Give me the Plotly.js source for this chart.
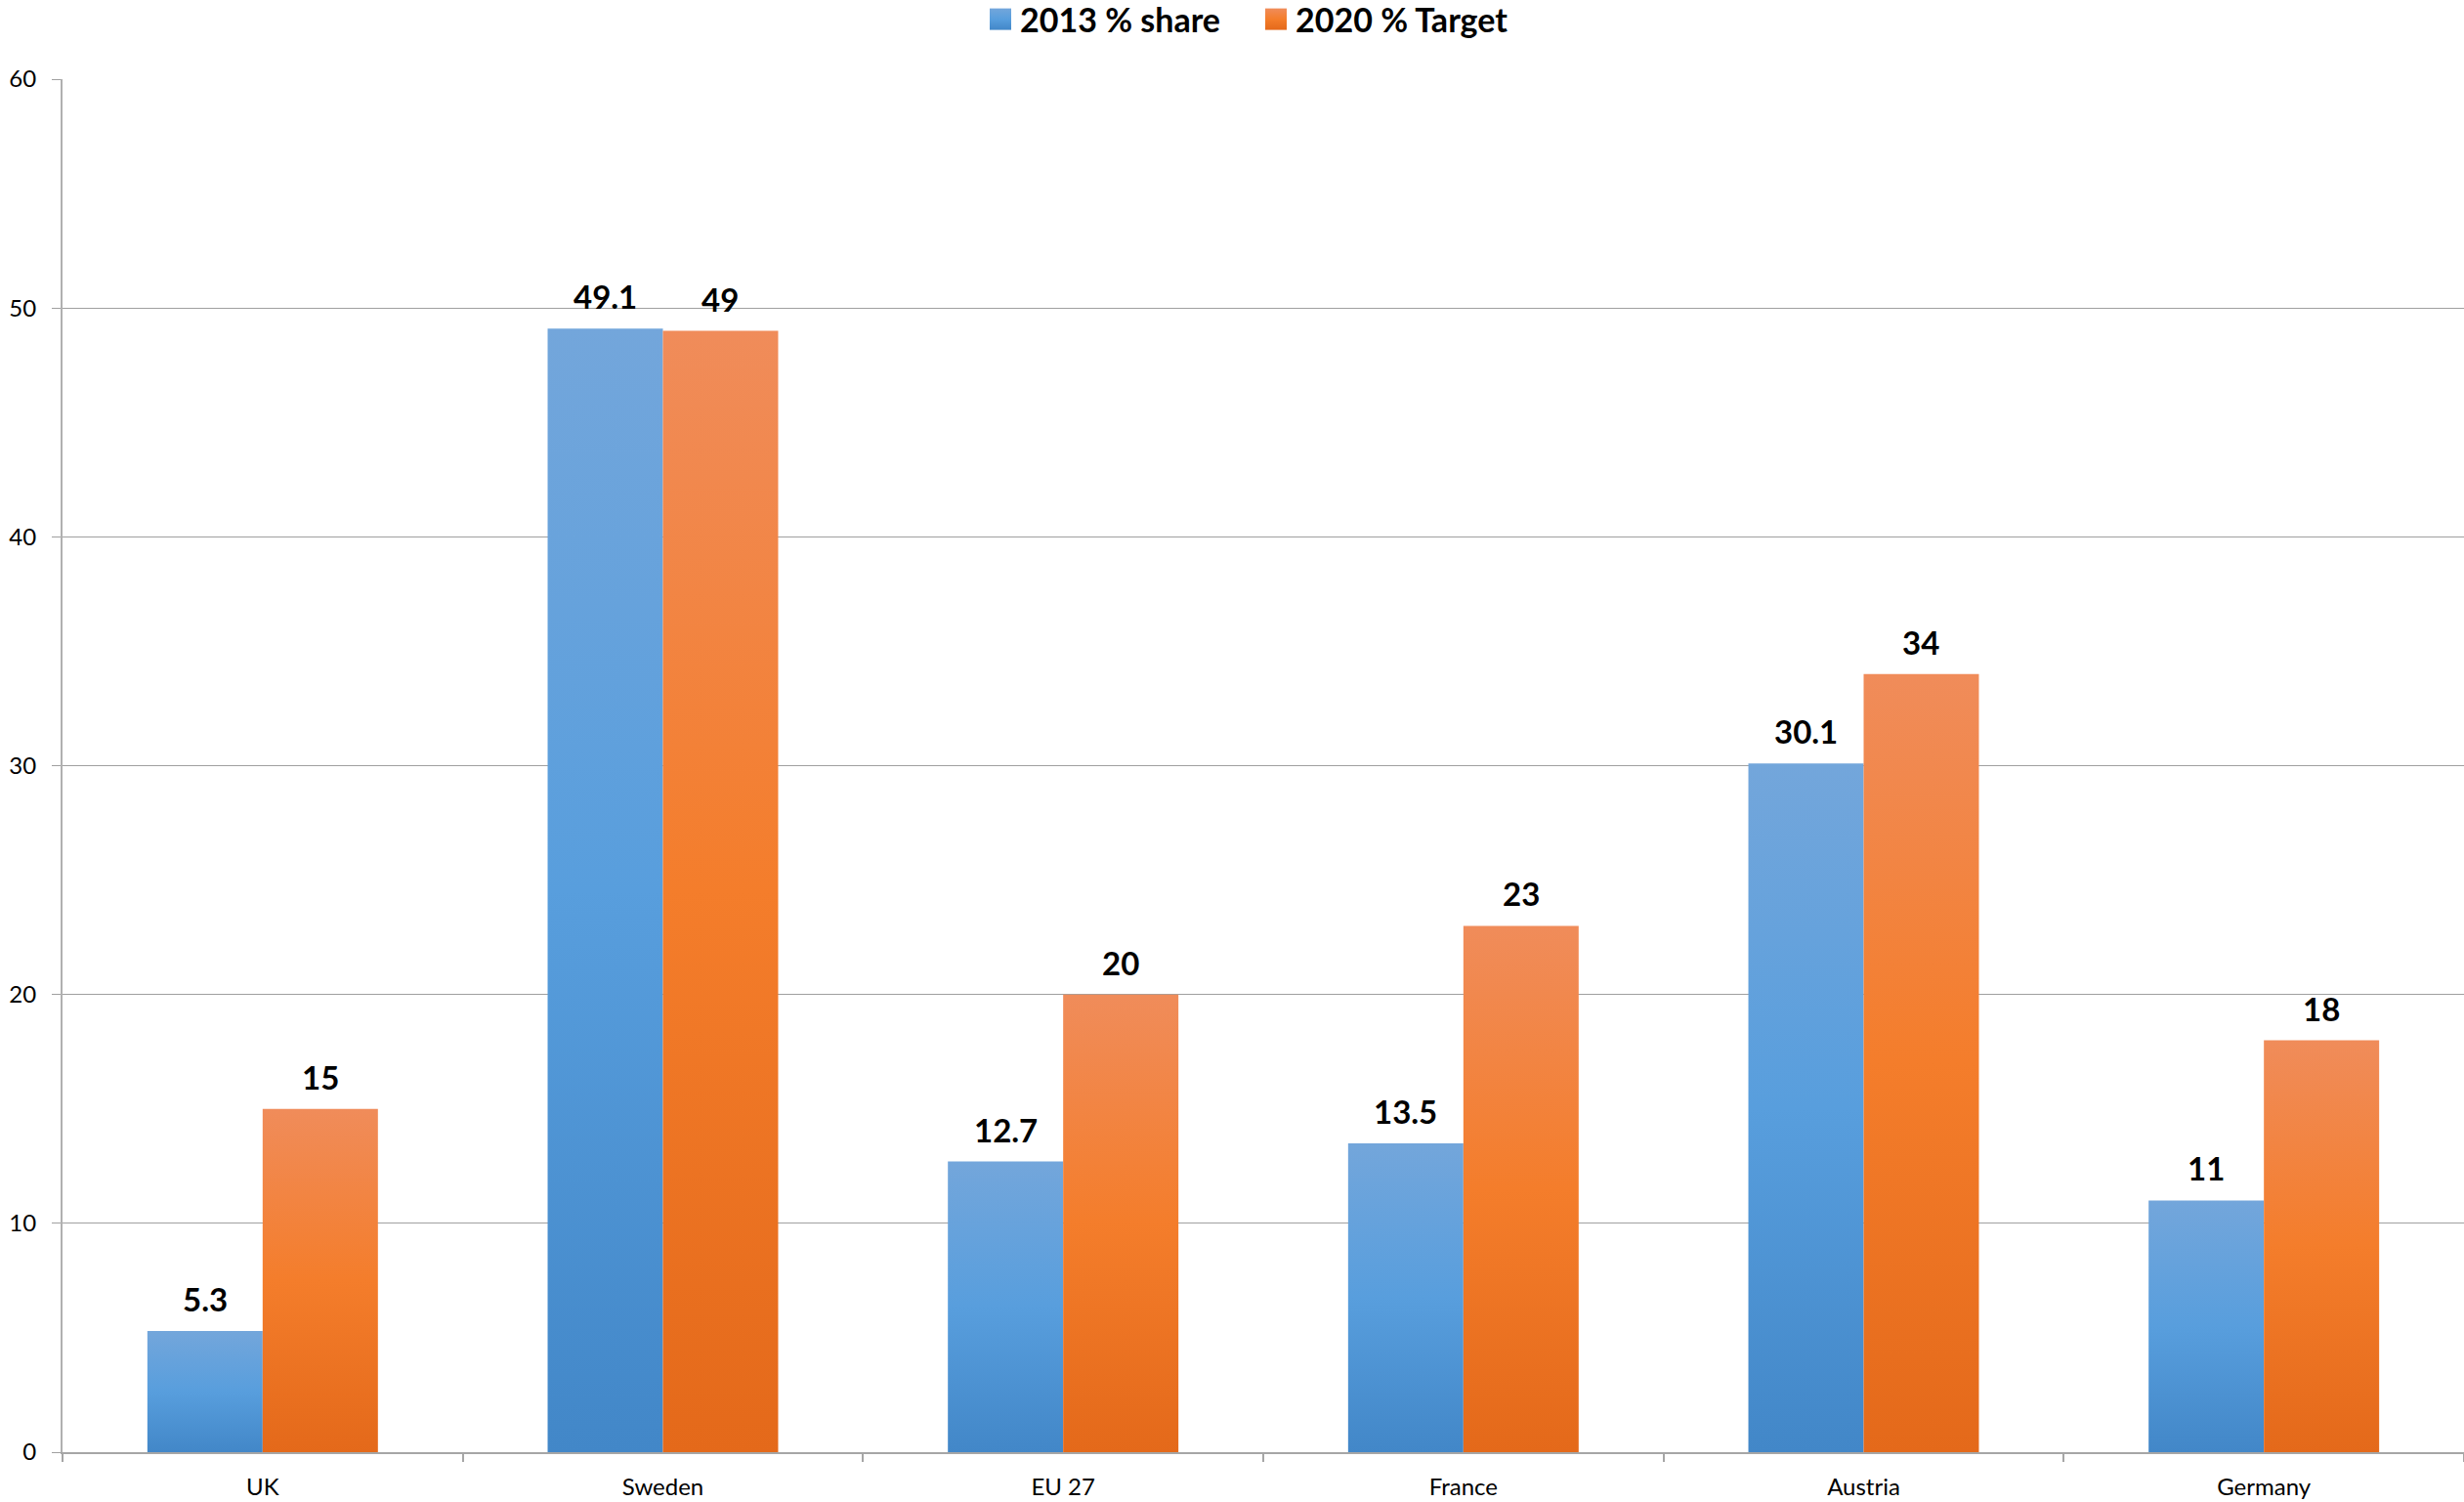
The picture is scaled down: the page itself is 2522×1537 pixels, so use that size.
<!DOCTYPE html>
<html>
<head>
<meta charset="utf-8">
<script src="https://cdn.plot.ly/plotly-3.0.1.min.js"></script>
<style>
  html, body { margin: 0; padding: 0; background: #ffffff; }
  #chart { width: 2522px; height: 1537px; }
</style>
</head>
<body>
<div id="chart"></div>
<script>
// ---- data ----
const categories = ["UK", "Sweden", "EU 27", "France", "Austria", "Germany"];
const share2013 = [5.3, 49.1, 12.7, 13.5, 30.1, 11];
const target2020 = [15, 49, 20, 23, 34, 18];
const seriesNames = ["2013 % share", "2020 % Target"];
const yTicks = [0, 10, 20, 30, 40, 50, 60];

// ---- layout constants ----
const W = 2522, H = 1537;
const margin = { l: 64, r: 0, t: 81, b: 51, autoexpand: false };
const bargap = 0.424;
const plotW = W - margin.l - margin.r;
const catW = plotW / categories.length;
const barW = catW * (1 - bargap) / 2;

const FONT = "Lato, 'Open Sans', 'Liberation Sans', sans-serif";

const traces = [
  {
    type: "bar", name: seriesNames[0], x: categories, y: share2013,
    marker: { color: "#5B9BD5" }, hoverinfo: "skip"
  },
  {
    type: "bar", name: seriesNames[1], x: categories, y: target2020,
    marker: { color: "#F07D2E" }, hoverinfo: "skip"
  }
];

const annotations = [];
[share2013, target2020].forEach((vals, si) => {
  vals.forEach((v, i) => {
    annotations.push({
      x: categories[i], y: v, xref: "x", yref: "y",
      text: String(v), showarrow: false,
      xanchor: "center", yanchor: "bottom",
      xshift: (si === 0 ? -1 : 1) * barW / 2,
      yshift: 11,
      font: { family: FONT, size: 33, color: "#000000", weight: "bold" }
    });
  });
});

const legendCenterPx = 20; // from top of page
const legendLeftPx = 1004;
const layout = {
  width: W, height: H,
  margin: margin,
  paper_bgcolor: "#ffffff", plot_bgcolor: "#ffffff",
  barmode: "group", bargap: bargap, bargroupgap: 0,
  showlegend: true,
  legend: {
    orientation: "h", xref: "container", yref: "container",
    x: legendLeftPx / W, xanchor: "left",
    y: 1 - legendCenterPx / H, yanchor: "middle",
    entrywidth: 237, entrywidthmode: "pixels",
    font: { family: FONT, size: 34, color: "#000000", weight: "bold" },
    itemclick: false, itemdoubleclick: false
  },
  xaxis: {
    type: "category",
    showline: true, linecolor: "#A6A6A6", linewidth: 2,
    ticks: "outside", tickson: "boundaries", ticklen: 8, tickcolor: "#A6A6A6", tickwidth: 2,
    ticklabelstandoff: 13,
    showgrid: false, zeroline: false,
    tickfont: { family: FONT, size: 24, color: "#000000" }
  },
  yaxis: {
    range: [0, 60], tickvals: yTicks, ticktext: yTicks.map(String),
    showline: true, linecolor: "#B0B0B0", linewidth: 2,
    ticks: "outside", ticklen: 9, tickcolor: "#A0A0A0", tickwidth: 1,
    ticklabelstandoff: 11,
    showgrid: true, gridcolor: "#A0A0A0", gridwidth: 1,
    zeroline: false,
    tickfont: { family: FONT, size: 24, color: "#000000" }
  },
  annotations: annotations
};

Plotly.newPlot("chart", traces, layout, { staticPlot: true, displayModeBar: false }).then(gd => {
  const svg = gd.querySelector("svg.main-svg");
  const NS = "http://www.w3.org/2000/svg";
  let defs = svg.querySelector("defs");
  if (!defs) { defs = document.createElementNS(NS, "defs"); svg.insertBefore(defs, svg.firstChild); }
  function grad(id, stops) {
    const g = document.createElementNS(NS, "linearGradient");
    g.setAttribute("id", id);
    g.setAttribute("x1", "0"); g.setAttribute("y1", "0");
    g.setAttribute("x2", "0"); g.setAttribute("y2", "1");
    stops.forEach(([o, c]) => {
      const s = document.createElementNS(NS, "stop");
      s.setAttribute("offset", o); s.setAttribute("stop-color", c);
      g.appendChild(s);
    });
    defs.appendChild(g);
  }
  grad("gBlue", [["0", "#73A6DB"], ["0.5", "#589EDD"], ["1", "#4287C8"]]);
  grad("gOrange", [["0", "#F08C5A"], ["0.5", "#F47D2B"], ["1", "#E4691A"]]);
  const ids = ["gBlue", "gOrange"];
  gd.querySelectorAll(".barlayer .trace").forEach((t, i) => {
    t.querySelectorAll(".point path").forEach(p => { p.style.fill = "url(#" + ids[i] + ")"; });
  });
  gd.querySelectorAll(".legend .traces").forEach((t, i) => {
    t.querySelectorAll(".legendpoints path").forEach(p => {
      p.setAttribute("d", "M-11,-11H11V11H-11Z");
      p.style.fill = "url(#" + ids[i] + ")";
      p.style.stroke = "none";
    });
  });
});
</script>
</body>
</html>
